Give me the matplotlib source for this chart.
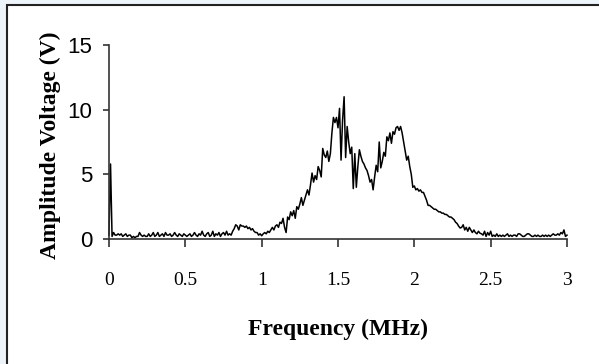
import matplotlib
matplotlib.use("Agg")
import matplotlib.pyplot as plt
from matplotlib.patches import Rectangle
import numpy as np

# Frequency axis (MHz), sampled every 0.01 MHz
freq_start = 0.0
freq_step = 0.01
amplitude = [
    0.3, 5.8, 0.2, 0.5, 0.3, 0.3, 0.4, 0.3, 0.4, 0.2,
    0.3, 0.4, 0.2, 0.3, 0.3, 0.1, 0.2, 0.1, 0.2, 0.2,
    0.5, 0.3, 0.2, 0.3, 0.2, 0.2, 0.4, 0.2, 0.3, 0.5,
    0.2, 0.3, 0.5, 0.2, 0.3, 0.4, 0.2, 0.5, 0.3, 0.3,
    0.4, 0.2, 0.3, 0.5, 0.3, 0.2, 0.4, 0.3, 0.2, 0.4,
    0.3, 0.2, 0.3, 0.4, 0.2, 0.3, 0.5, 0.3, 0.2, 0.4,
    0.3, 0.6, 0.3, 0.2, 0.4, 0.5, 0.2, 0.3, 0.6, 0.2,
    0.4, 0.3, 0.5, 0.2, 0.4, 0.5, 0.3, 0.6, 0.3, 0.4,
    0.3, 0.6, 0.8, 1.1, 1.0, 0.7, 1.1, 1.0, 1.0, 0.9,
    1.0, 0.8, 0.9, 0.7, 0.8, 0.6, 0.5, 0.5, 0.3, 0.4,
    0.25, 0.4, 0.5, 0.4, 0.6, 0.5, 0.7, 0.9, 0.7, 1.0,
    1.1, 0.9, 1.3, 1.2, 1.6, 0.9, 0.5, 1.7, 1.5, 2.1,
    1.8, 2.2, 1.6, 2.5, 2.3, 2.7, 3.2, 2.6, 3.0, 3.4,
    3.8, 3.4, 4.2, 5.1, 4.4, 4.9, 4.6, 5.6, 5.3, 4.8,
    7.0, 6.5, 6.3, 6.8, 6.0, 6.6, 8.2, 9.4, 9.0, 9.4,
    8.6, 10.1, 6.1, 9.2, 11.0, 6.3, 8.7, 7.5, 6.6, 7.1,
    3.9, 6.6, 4.0, 5.6, 6.9, 6.4, 6.0, 5.8, 5.5, 5.3,
    4.9, 4.4, 4.6, 3.8, 4.8, 5.7, 5.2, 7.5, 5.5, 6.0,
    6.7, 6.4, 7.9, 7.6, 8.2, 7.4, 8.3, 8.1, 8.6, 8.7,
    8.4, 8.7, 8.2, 7.5, 6.8, 6.1, 6.4, 5.6, 5.0, 4.0,
    4.1, 3.8, 3.9, 3.7, 3.8, 3.6, 3.6, 3.3, 3.0, 2.6,
    2.6, 2.5, 2.4, 2.3, 2.3, 2.2, 2.1, 2.1, 2.0, 2.0,
    1.9, 1.9, 1.8, 1.7, 1.7, 1.6, 1.5, 1.3, 1.2, 1.0,
    0.85, 0.9, 1.1, 0.7, 0.9, 0.6, 0.9, 0.7, 0.5, 0.7,
    0.5, 0.4, 0.6, 0.45, 0.4, 0.3, 0.6, 0.2, 0.5, 0.3,
    0.6, 0.2, 0.3, 0.2, 0.4, 0.2, 0.3, 0.2, 0.3, 0.2,
    0.3, 0.4, 0.2, 0.3, 0.2, 0.3, 0.3, 0.2, 0.4, 0.4,
    0.3, 0.2, 0.2, 0.3, 0.4, 0.4, 0.3, 0.2, 0.2, 0.3,
    0.2, 0.3, 0.2, 0.2, 0.3, 0.2, 0.3, 0.2, 0.3, 0.2,
    0.3, 0.4, 0.3, 0.3, 0.4, 0.3, 0.5, 0.4, 0.7, 0.2,
    0.3,
]
frequency = [round(freq_start + i * freq_step, 2) for i in range(len(amplitude))]

x_ticks = [0, 0.5, 1, 1.5, 2, 2.5, 3]
x_tick_labels = ["0", "0.5", "1", "1.5", "2", "2.5", "3"]
y_ticks = [0, 5, 10, 15]
y_tick_labels = ["0", "5", "10", "15"]
x_label = "Frequency (MHz)"
y_label = "Amplitude Voltage (V)"

W, H = 599, 364
fig = plt.figure(figsize=(W / 100, H / 100), dpi=100)
fig.patch.set_facecolor("#eef5fa")

# white page frame (drawn behind the axes)
frame = Rectangle((7 / W, -0.2), 1.5, (1 - 5 / H) + 0.2, transform=fig.transFigure,
                  facecolor="white", edgecolor="#222222", linewidth=1.5, zorder=-10)
fig.patches.append(frame)

ax = fig.add_axes([109 / W, 1 - 239 / H, (567 - 109) / W, (239 - 45) / H])
ax.set_zorder(5)
ax.set_facecolor("none")
ax.plot(frequency, amplitude, color="black", linewidth=1.1, clip_on=False)

ax.set_xlim(0, 3)
ax.set_ylim(0, 15)
for s in ["top", "right"]:
    ax.spines[s].set_visible(False)
for s in ["left", "bottom"]:
    ax.spines[s].set_color("#333333")
    ax.spines[s].set_linewidth(1.2)

ax.set_xticks(x_ticks)
ax.set_xticklabels(x_tick_labels, family="Liberation Serif", fontsize=14)
ax.set_yticks(y_ticks)
ax.set_yticklabels(y_tick_labels, family="Liberation Sans", fontsize=16)
ax.tick_params(axis="x", direction="out", length=6, width=1.2, pad=18, color="#333333")
ax.tick_params(axis="y", direction="out", length=4, width=1.2, pad=8, color="#333333")

ax.set_xlabel(x_label, family="Liberation Serif", fontweight="bold", fontsize=17)
ax.set_ylabel(y_label, family="Liberation Serif", fontweight="bold", fontsize=17)
ax.xaxis.set_label_coords(0.5, -0.41)
ax.yaxis.set_label_coords(-0.105, 0.485)

fig.savefig("out.png", dpi=100)
